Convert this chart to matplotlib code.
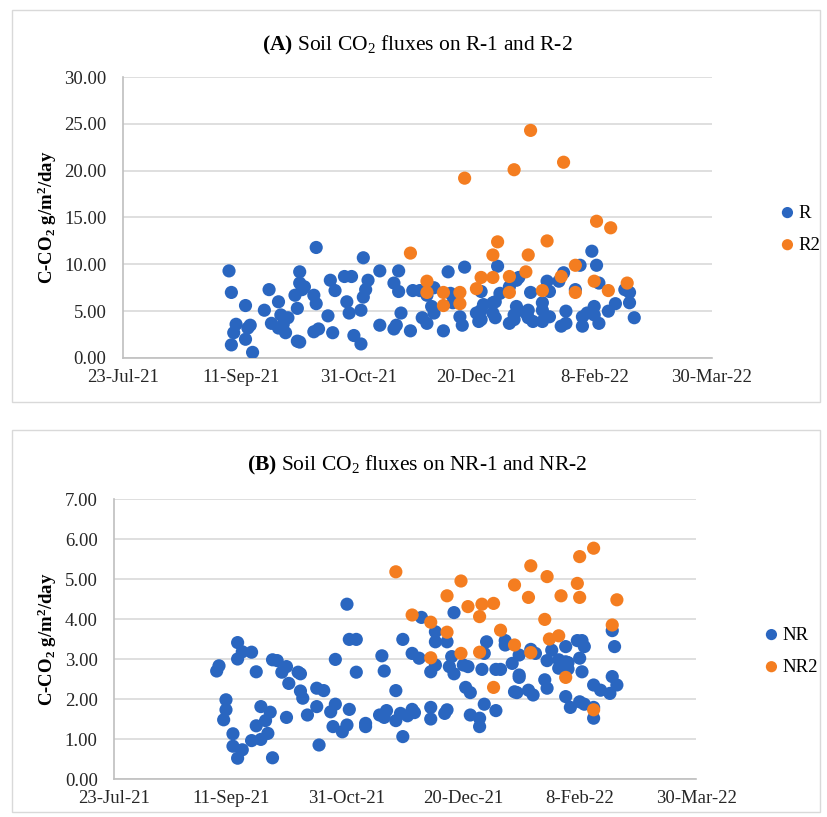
import matplotlib
matplotlib.use("Agg")
import matplotlib.pyplot as plt
from matplotlib.patches import Rectangle
from matplotlib.ticker import FuncFormatter, FormatStrFormatter
import pandas as pd

plt.rcParams["font.family"] = ["Liberation Serif", "DejaVu Serif"]
plt.rcParams["mathtext.fontset"] = "custom"
plt.rcParams["mathtext.rm"] = "Liberation Serif"
plt.rcParams["mathtext.bf"] = "Liberation Serif:bold"
plt.rcParams["mathtext.it"] = "Liberation Serif:italic"

# sampling dates as Excel serial days, flux in g C-CO2 / m2 / day
r_days = [44445, 44446, 44452, 44448, 44447, 44446, 44454, 44453, 44452, 44455,
          44462, 44460, 44463, 44466, 44467, 44466, 44469, 44470, 44468, 44474,
          44475, 44475, 44476, 44473, 44474, 44481, 44482, 44481, 44482, 44477,
          44487, 44483, 44489, 44475, 44488, 44490, 44494, 44497, 44495, 44496,
          44498, 44501, 44502, 44504, 44503, 44502, 44501, 44509, 44509, 44515,
          44517, 44517, 44518, 44516, 44515, 44522, 44523, 44526, 44529, 44531,
          44532, 44527, 44529, 44532, 44536, 44538, 44539, 44540, 44543, 44544,
          44545, 44552, 44550, 44551, 44553, 44559, 44560, 44557, 44557, 44558,
          44568, 44567, 44566, 44564, 44552, 44552, 44558, 44564, 44567, 44566,
          44571, 44572, 44572, 44573, 44574, 44578, 44578, 44578, 44580, 44581,
          44581, 44585, 44587, 44586, 44588, 44588, 44592, 44594, 44595, 44595,
          44597, 44599, 44601, 44600, 44600, 44602, 44602, 44606, 44609, 44613,
          44615, 44615, 44617]
r_flux = [9.3, 7.0, 5.6, 3.6, 2.7, 1.4, 3.5, 3.2, 2.0, 0.6,
          7.3, 5.1, 3.7, 6.0, 4.6, 3.2, 2.7, 4.3, 3.6, 1.8,
          9.2, 8.0, 7.3, 6.7, 5.3, 6.7, 5.8, 2.8, 11.8, 7.6,
          4.5, 3.1, 2.7, 1.7, 8.3, 7.2, 8.7, 8.7, 6.0, 4.8,
          2.4, 1.5, 10.7, 8.3, 7.3, 6.5, 5.1, 9.3, 3.5, 8.0,
          9.3, 7.1, 4.8, 3.5, 3.1, 2.9, 7.2, 7.2, 6.7, 5.5,
          7.5, 4.3, 3.7, 4.8, 2.9, 9.2, 6.9, 5.9, 4.4, 3.5,
          9.7, 7.1, 4.8, 3.9, 5.7, 9.8, 6.9, 5.9, 4.8, 4.3,
          8.6, 5.5, 4.1, 3.7, 5.1, 4.1, 6.0, 7.6, 8.3, 4.6,
          4.8, 5.1, 4.3, 7.0, 3.9, 3.9, 5.9, 5.1, 8.2, 7.1,
          4.4, 8.2, 9.1, 3.4, 3.7, 5.0, 7.3, 9.9, 4.4, 3.4,
          4.8, 11.4, 9.9, 5.5, 4.6, 3.7, 8.0, 5.0, 5.8, 7.3,
          7.0, 5.9, 4.3]

r2_days = [44522, 44529, 44529, 44536, 44536, 44543, 44543, 44545, 44550, 44552,
           44557, 44559, 44557, 44564, 44564, 44566, 44572, 44571, 44573, 44580,
           44578, 44586, 44587, 44592, 44592, 44600, 44601, 44606, 44607, 44614]
r2_flux = [11.2, 8.2, 7.0, 7.0, 5.6, 7.0, 5.8, 19.2, 7.4, 8.6,
           11.0, 12.4, 8.6, 8.7, 7.0, 20.1, 11.0, 9.2, 24.3, 12.5,
           7.2, 8.7, 20.9, 9.9, 7.0, 8.2, 14.6, 7.2, 13.9, 8.0]

nr_days = [44453, 44455, 44453, 44459, 44445, 44444, 44461, 44468, 44470, 44474,
           44472, 44479, 44480, 44475, 44480, 44481, 44487, 44487, 44483, 44448,
           44448, 44447, 44463, 44467, 44465, 44461, 44466, 44459, 44463, 44474,
           44451, 44451, 44455, 44453, 44468, 44488, 44490, 44495, 44493, 44495,
           44494, 44498, 44500, 44501, 44500, 44501, 44504, 44504, 44508, 44508,
           44515, 44516, 44514, 44517, 44516, 44521, 44521, 44523, 44524, 44524,
           44528, 44528, 44529, 44526, 44532, 44531, 44536, 44538, 44536, 44536,
           44538, 44538, 44543, 44543, 44542, 44545, 44544, 44546, 44546, 44550,
           44552, 44551, 44553, 44553, 44557, 44557, 44559, 44560, 44558, 44559,
           44564, 44564, 44566, 44568, 44571, 44574, 44572, 44614, 44615, 44568,
           44574, 44574, 44573, 44579, 44581, 44578, 44580, 44585, 44586, 44586,
           44588, 44594, 44591, 44594, 44595, 44591, 44595, 44594, 44596, 44599,
           44601, 44602, 44600, 44601, 44600, 44602, 44606, 44609, 44606, 44606,
           44614, 44613, 44616]
nr_flux = [3.41, 3.18, 3.00, 3.17, 2.83, 2.70, 2.68, 2.98, 2.96, 2.81,
           2.67, 2.67, 2.63, 2.39, 2.20, 2.02, 2.27, 1.81, 1.60, 1.98,
           1.73, 1.48, 1.81, 1.67, 1.46, 1.33, 1.14, 0.96, 0.99, 1.54,
           1.13, 0.82, 0.73, 0.52, 0.53, 0.85, 2.21, 2.99, 1.68, 1.87,
           1.31, 1.18, 1.35, 1.74, 4.37, 3.49, 3.49, 2.67, 1.39, 1.31,
           3.08, 2.70, 1.60, 1.71, 1.54, 2.21, 1.46, 1.64, 1.06, 3.49,
           3.14, 1.74, 1.66, 1.58, 4.04, 3.02, 2.68, 2.85, 1.79, 1.50,
           3.68, 3.43, 3.43, 1.73, 1.64, 3.06, 2.81, 2.63, 4.16, 2.85,
           2.81, 2.29, 2.16, 1.60, 1.52, 1.31, 3.14, 3.43, 2.74, 1.87,
           1.71, 2.74, 2.74, 3.46, 2.89, 2.60, 2.18, 3.71, 3.31, 3.35,
           3.10, 2.54, 2.16, 3.24, 3.14, 2.22, 2.10, 2.48, 2.27, 2.96,
           3.22, 3.31, 2.98, 2.93, 2.91, 2.77, 2.75, 2.06, 1.79, 3.46,
           3.46, 3.31, 3.02, 2.68, 1.93, 1.87, 2.35, 2.22, 1.79, 1.52,
           2.56, 2.14, 2.35]

nr2_days = [44521, 44528, 44536, 44536, 44543, 44543, 44549, 44552, 44557, 44549,
            44558, 44563, 44557, 44563, 44566, 44572, 44572, 44606, 44600, 44579,
            44586, 44599, 44578, 44592, 44600, 44616, 44585, 44614, 44587, 44591,
            44579, 44594, 44606]
nr2_flux = [5.18, 4.10, 3.92, 3.03, 3.67, 4.58, 4.95, 4.31, 4.06, 3.14,
            4.37, 4.39, 3.17, 2.29, 3.72, 4.85, 3.35, 5.77, 5.56, 5.33,
            5.06, 4.89, 4.54, 4.58, 4.54, 4.48, 3.99, 3.85, 3.50, 3.58,
            3.16, 2.54, 1.73]

x_ticks = ["2021-07-23", "2021-09-11", "2021-10-31", "2021-12-20", "2022-02-08", "2022-03-30"]

BLUE = "#2a66c0"
ORANGE = "#f47d20"
GRID = "#d9d9d9"


def to_dates(serials):
    return pd.to_datetime(serials, unit="D", origin="1899-12-30")


def date_label(x, pos=None):
    d = matplotlib.dates.num2date(x)
    return f"{d.day}-{d.strftime('%b-%y')}"


fig = plt.figure(figsize=(8.27, 8.17), dpi=100)

# chart frames
for y0, h in [(415 / 817, 392 / 817), (5 / 817, 382 / 817)]:
    fig.patches.append(Rectangle((12 / 827, y0), 808 / 827, h, transform=fig.transFigure,
                                 fill=False, edgecolor=GRID, linewidth=1.0))

panels = [
    dict(rect=[123 / 827, 1 - 358 / 817, 589 / 827, 281 / 817], ymax=30, ystep=5,
         series=[(r_days, r_flux, "R", BLUE), (r2_days, r2_flux, "R2", ORANGE)],
         title=r"$\mathbf{(A)}$ Soil CO$_2$ fluxes on R-1 and R-2", title_y=1 - 45 / 817,
         leg=(779 / 827, 1 - 229 / 817), ylab_x=47 / 827),
    dict(rect=[114.3 / 827, 1 - 779 / 817, 581.7 / 827, 280 / 817], ymax=7, ystep=1,
         series=[(nr_days, nr_flux, "NR", BLUE), (nr2_days, nr2_flux, "NR2", ORANGE)],
         title=r"$\mathbf{(B)}$ Soil CO$_2$ fluxes on NR-1 and NR-2", title_y=1 - 465 / 817,
         leg=(763 / 827, 1 - 651 / 817), ylab_x=47 / 827),
]

for p in panels:
    ax = fig.add_axes(p["rect"])
    for days, flux, lab, col in p["series"]:
        ax.scatter(to_dates(days), flux, s=90, color=col, edgecolors="none", label=lab, zorder=3)
    ax.set_xlim(pd.Timestamp(x_ticks[0]), pd.Timestamp(x_ticks[-1]))
    ax.set_ylim(0, p["ymax"])
    ax.set_xticks(pd.to_datetime(x_ticks))
    ax.xaxis.set_major_formatter(FuncFormatter(date_label))
    ax.set_yticks(range(0, p["ymax"] + 1, p["ystep"]))
    ax.yaxis.set_major_formatter(FormatStrFormatter("%.2f"))
    ax.grid(axis="y", color=GRID, linewidth=1.2, zorder=0)
    ax.tick_params(length=0, labelsize=13.5, colors="#262626")
    ax.tick_params(axis="y", pad=12)
    ax.tick_params(axis="x", pad=8)
    for side in ["top", "right"]:
        ax.spines[side].set_visible(False)
    for side in ["left", "bottom"]:
        ax.spines[side].set_color("#bfbfbf")
        ax.spines[side].set_linewidth(1.2)
    fig.text(0.505, p["title_y"], p["title"], ha="center", va="center", fontsize=15.5)
    fig.text(p["ylab_x"], p["rect"][1] + p["rect"][3] / 2,
             r"C-CO$_\mathbf{2}$ g/m$^\mathbf{2}$/day", rotation=90, ha="center", va="center",
             fontsize=13.5, fontweight="bold")
    ax.legend(loc="center left", bbox_to_anchor=p["leg"], bbox_transform=fig.transFigure,
              frameon=False, fontsize=13.5, handletextpad=0.15, handlelength=0.9,
              labelspacing=0.8, markerscale=0.85, borderpad=0, borderaxespad=0)

fig.savefig("out.png", dpi=100, facecolor="white")
